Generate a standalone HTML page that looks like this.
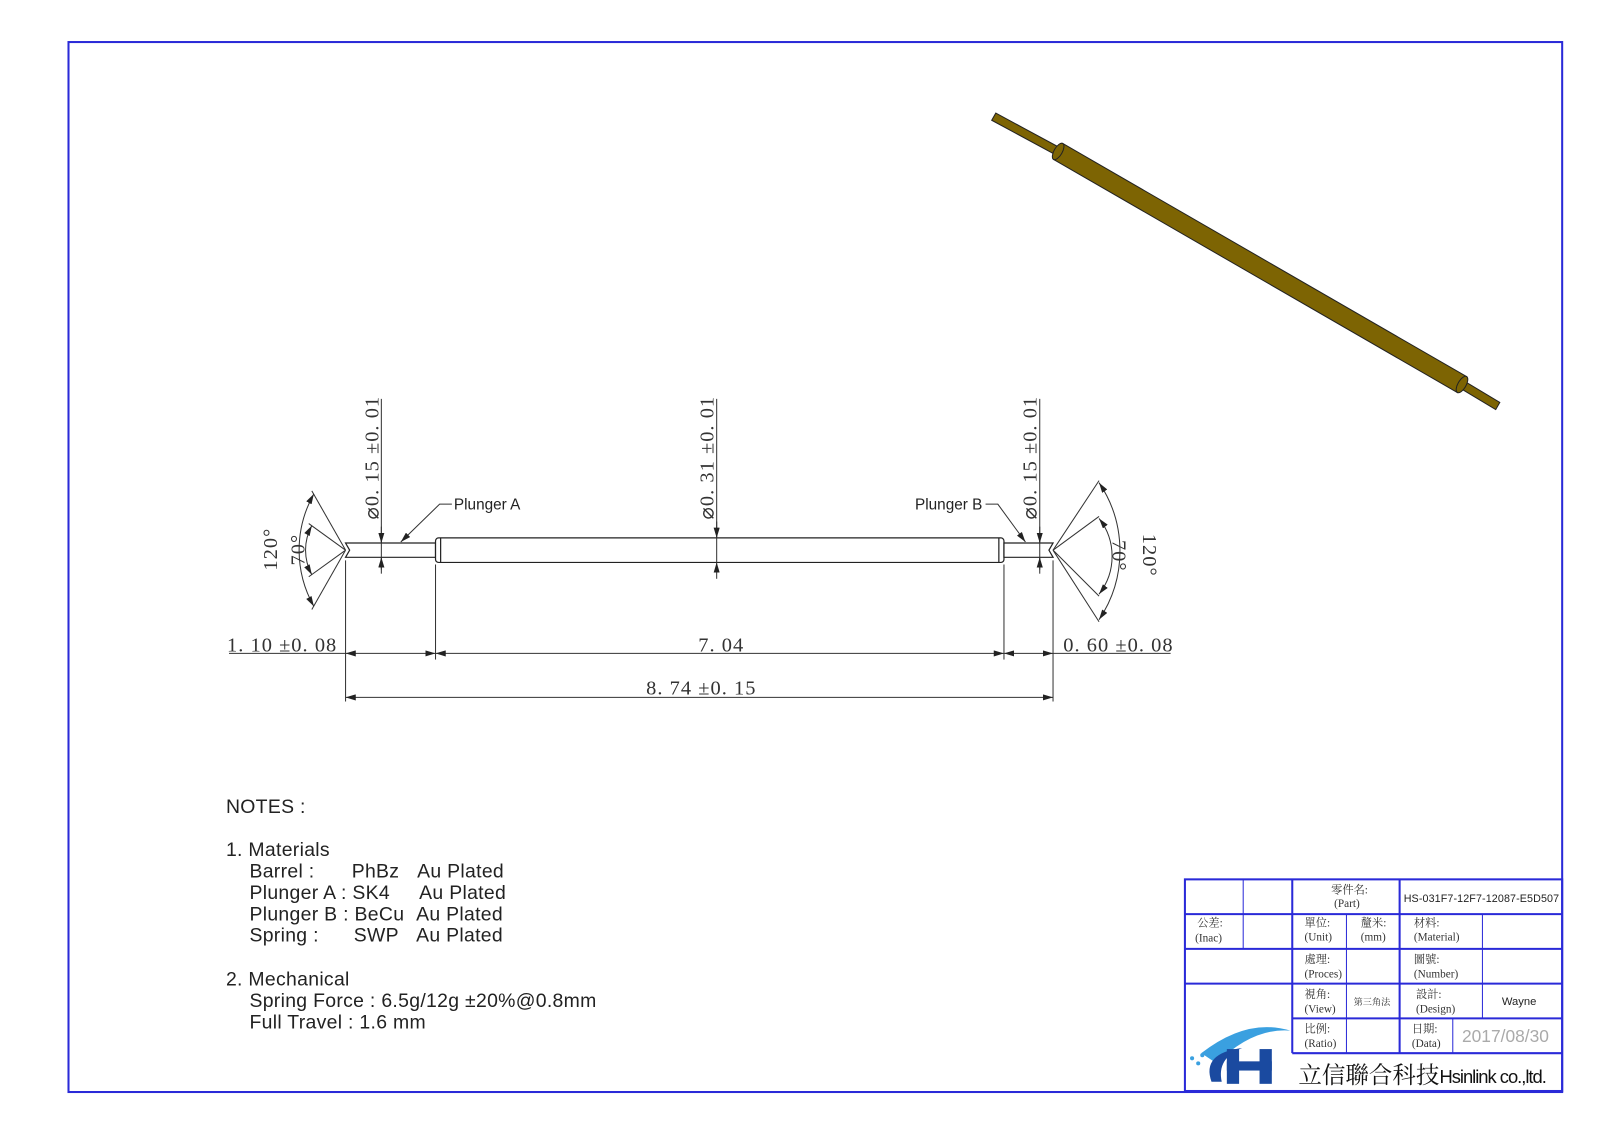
<!DOCTYPE html><html><head><meta charset="utf-8"><style>body{margin:0;background:#fff}svg{display:block}
.s{font-family:"Liberation Serif","Noto Serif CJK SC",serif;fill:#333}
.a{font-family:"Liberation Sans","Noto Sans CJK TC",sans-serif;fill:#222}</style></head><body>
<svg width="1600" height="1131" viewBox="0 0 1565 1106">
<defs><marker id="ar" markerWidth="10" markerHeight="6" refX="10" refY="3" orient="auto-start-reverse" markerUnits="userSpaceOnUse"><path d="M0,0L10,3L0,6z" fill="#222"/></marker></defs>
<rect x="67" y="41" width="1461" height="1027" fill="none" stroke="#2a2ad8" stroke-width="2"/>
<!-- 3D pin -->
<g stroke="#222" stroke-width="1" fill="#7d6403">
<polygon points="974,110.5 1037,144.5 1033,151.5 970,117.5"/>
<polygon points="1039.5,140.2 1434.5,368.2 1425.5,383.8 1030.5,155.8"/>
<polygon points="1432,372.5 1467,393.5 1463,400.5 1428,379.5"/>
<ellipse cx="1035" cy="148" rx="4" ry="9" transform="rotate(30 1035 148)"/>
<ellipse cx="1430" cy="376" rx="4" ry="9" transform="rotate(30 1430 376)"/>
</g>
<!-- 2D pin -->
<g stroke="#222" stroke-width="1.2" fill="#fff">
<path d="M338,531 L426,531 L426,545 L338,545 L342,538 Z"/>
<rect x="426" y="526" width="556" height="24" rx="3"/>
<line x1="431" y1="526" x2="431" y2="550"/><line x1="977" y1="526" x2="977" y2="550"/>
<path d="M982,531 L1030,531 L1026,538 L1030,545 L982,545 Z"/>
</g>
<g stroke="#333" stroke-width="1" fill="none">
<line x1="338" y1="548" x2="338" y2="686"/><line x1="426" y1="552" x2="426" y2="645"/>
<line x1="982" y1="552" x2="982" y2="645"/><line x1="1030" y1="548" x2="1030" y2="686"/>
<line x1="224" y1="639" x2="338" y2="639"/>
<line x1="338" y1="639" x2="426" y2="639" marker-start="url(#ar)" marker-end="url(#ar)"/>
<line x1="426" y1="639" x2="982" y2="639" marker-start="url(#ar)" marker-end="url(#ar)"/>
<line x1="982" y1="639" x2="1030" y2="639" marker-start="url(#ar)" marker-end="url(#ar)"/>
<line x1="1030" y1="639" x2="1145" y2="639"/>
<line x1="338" y1="682" x2="1030" y2="682" marker-start="url(#ar)" marker-end="url(#ar)"/>
<line x1="373" y1="390" x2="373" y2="557"/><line x1="701" y1="390" x2="701" y2="550"/><line x1="1017" y1="390" x2="1017" y2="557"/>
<line x1="373" y1="515" x2="373" y2="531" marker-end="url(#ar)"/><line x1="373" y1="561" x2="373" y2="545" marker-end="url(#ar)"/>
<line x1="1017" y1="515" x2="1017" y2="531" marker-end="url(#ar)"/><line x1="1017" y1="561" x2="1017" y2="545" marker-end="url(#ar)"/>
<line x1="701" y1="510" x2="701" y2="526" marker-end="url(#ar)"/><line x1="701" y1="566" x2="701" y2="550" marker-end="url(#ar)"/>
<line x1="338" y1="538" x2="305" y2="480"/><line x1="338" y1="538" x2="305" y2="596"/>
<line x1="338" y1="538" x2="302" y2="512"/><line x1="338" y1="538" x2="302" y2="564"/>
<path d="M307,483 A112,112 0 0 0 307,593" marker-start="url(#ar)" marker-end="url(#ar)"/>
<path d="M305,514 A50,50 0 0 0 305,562" marker-start="url(#ar)" marker-end="url(#ar)"/>
<line x1="1030" y1="538" x2="1075" y2="470"/><line x1="1030" y1="538" x2="1075" y2="608"/>
<line x1="1030" y1="538" x2="1075" y2="505"/><line x1="1030" y1="538" x2="1075" y2="583"/>
<path d="M1075,472 A120,120 0 0 1 1075,606" marker-start="url(#ar)" marker-end="url(#ar)"/>
<path d="M1075,507 A60,60 0 0 1 1075,581" marker-start="url(#ar)" marker-end="url(#ar)"/>
<polyline points="442,493 430,493 392,530" marker-end="url(#ar)"/>
<polyline points="964,493 976,493 1003,530" marker-end="url(#ar)"/>
</g>
<g class="s" font-size="20" letter-spacing="1">
<text x="222" y="637">1. 10 ±0. 08</text>
<text x="683" y="637">7. 04</text>
<text x="1040" y="637">0. 60 ±0. 08</text>
<text x="632" y="679">8. 74 ±0. 15</text>
<text transform="translate(370,508) rotate(-90)">⌀0. 15 ±0. 01</text>
<text transform="translate(698,508) rotate(-90)">⌀0. 31 ±0. 01</text>
<text transform="translate(1014,508) rotate(-90)">⌀0. 15 ±0. 01</text>
<text transform="translate(271,558) rotate(-90)">120°</text>
<text transform="translate(298,553) rotate(-90)">70°</text>
<text transform="translate(1088,528) rotate(90)">70°</text>
<text transform="translate(1118,522) rotate(90)">120°</text>
</g>
<g class="a" font-size="15"><text x="444" y="498">Plunger A</text><text x="895" y="498">Plunger B</text></g>
<g class="a" font-size="19" letter-spacing="0.3">
<text x="221" y="795">NOTES :</text>
<text x="221" y="837">1. Materials</text>
<text x="244" y="858">Barrel :</text><text x="344" y="858">PhBz</text><text x="408" y="858">Au Plated</text>
<text x="244" y="879">Plunger A : SK4</text><text x="410" y="879">Au Plated</text>
<text x="244" y="900">Plunger B : BeCu</text><text x="407" y="900">Au Plated</text>
<text x="244" y="921">Spring :</text><text x="346" y="921">SWP</text><text x="407" y="921">Au Plated</text>
<text x="221" y="964">2. Mechanical</text>
<text x="244" y="985">Spring Force : 6.5g/12g ±20%@0.8mm</text>
<text x="244" y="1006">Full Travel : 1.6 mm</text>
</g>
<g stroke="#2a2ad8" stroke-width="2" fill="none">
<rect x="1159" y="860" width="369" height="207"/>
<line x1="1159" y1="894" x2="1528" y2="894"/><line x1="1159" y1="928" x2="1528" y2="928"/>
<line x1="1159" y1="962" x2="1528" y2="962"/><line x1="1264" y1="996" x2="1528" y2="996"/>
<line x1="1264" y1="1030" x2="1528" y2="1030"/>
<line x1="1264" y1="860" x2="1264" y2="1030"/><line x1="1369" y1="860" x2="1369" y2="1030"/>
</g>
<g stroke="#2a2ad8" stroke-width="1" fill="none">
<line x1="1216" y1="860" x2="1216" y2="928"/>
<line x1="1317" y1="894" x2="1317" y2="1030"/><line x1="1450" y1="894" x2="1450" y2="996"/>
<line x1="1421" y1="996" x2="1421" y2="1030"/>
</g>
<g class="s" font-size="11" fill="#444">
<text x="1302" y="874">零件名:</text><text x="1305" y="887">(Part)</text>
<text x="1171" y="906">公差:</text><text x="1169" y="921">(Inac)</text>
<text x="1276" y="906">單位:</text><text x="1276" y="920">(Unit)</text>
<text x="1331" y="906">釐米:</text><text x="1331" y="920">(mm)</text>
<text x="1383" y="906">材料:</text><text x="1383" y="920">(Material)</text>
<text x="1276" y="942">處理:</text><text x="1276" y="956">(Proces)</text>
<text x="1383" y="942">圖號:</text><text x="1383" y="956">(Number)</text>
<text x="1276" y="976">視角:</text><text x="1276" y="990">(View)</text>
<text x="1324" y="983" font-size="9">第三角法</text>
<text x="1385" y="976">設計:</text><text x="1385" y="990">(Design)</text>
<text x="1276" y="1010">比例:</text><text x="1276" y="1024">(Ratio)</text>
<text x="1381" y="1010">日期:</text><text x="1381" y="1024">(Data)</text>
</g>
<text class="a" x="1373" y="882" font-size="10.5" textLength="152">HS-031F7-12F7-12087-E5D507</text>
<text class="a" x="1469" y="983" font-size="11">Wayne</text>
<text class="a" x="1430" y="1019" font-size="17" style="fill:#aaa">2017/08/30</text>
<text class="s" x="1270" y="1059" font-size="23" style="fill:#111">立信聯合科技</text>
<text class="a" x="1408" y="1059" font-size="18" textLength="105" style="fill:#111">Hsinlink co.,ltd.</text>
<path d="M1175,1030 Q1220,995 1262,1008 Q1225,1005 1190,1040 Z" fill="#3aa0e0"/>
<path d="M1185,1058 Q1175,1030 1215,1025 Q1190,1035 1195,1058 Z" fill="#1a4aa0"/>
<rect x="1200" y="1026" width="12" height="34" fill="#1a4aa0"/><rect x="1232" y="1026" width="12" height="34" fill="#1a4aa0"/>
<rect x="1200" y="1038" width="44" height="9" fill="#1a4aa0"/>
<circle cx="1166" cy="1035" r="2" fill="#3aa0e0"/><circle cx="1172" cy="1040" r="2" fill="#3aa0e0"/><circle cx="1176" cy="1032" r="2" fill="#3aa0e0"/>
</svg></body></html>
